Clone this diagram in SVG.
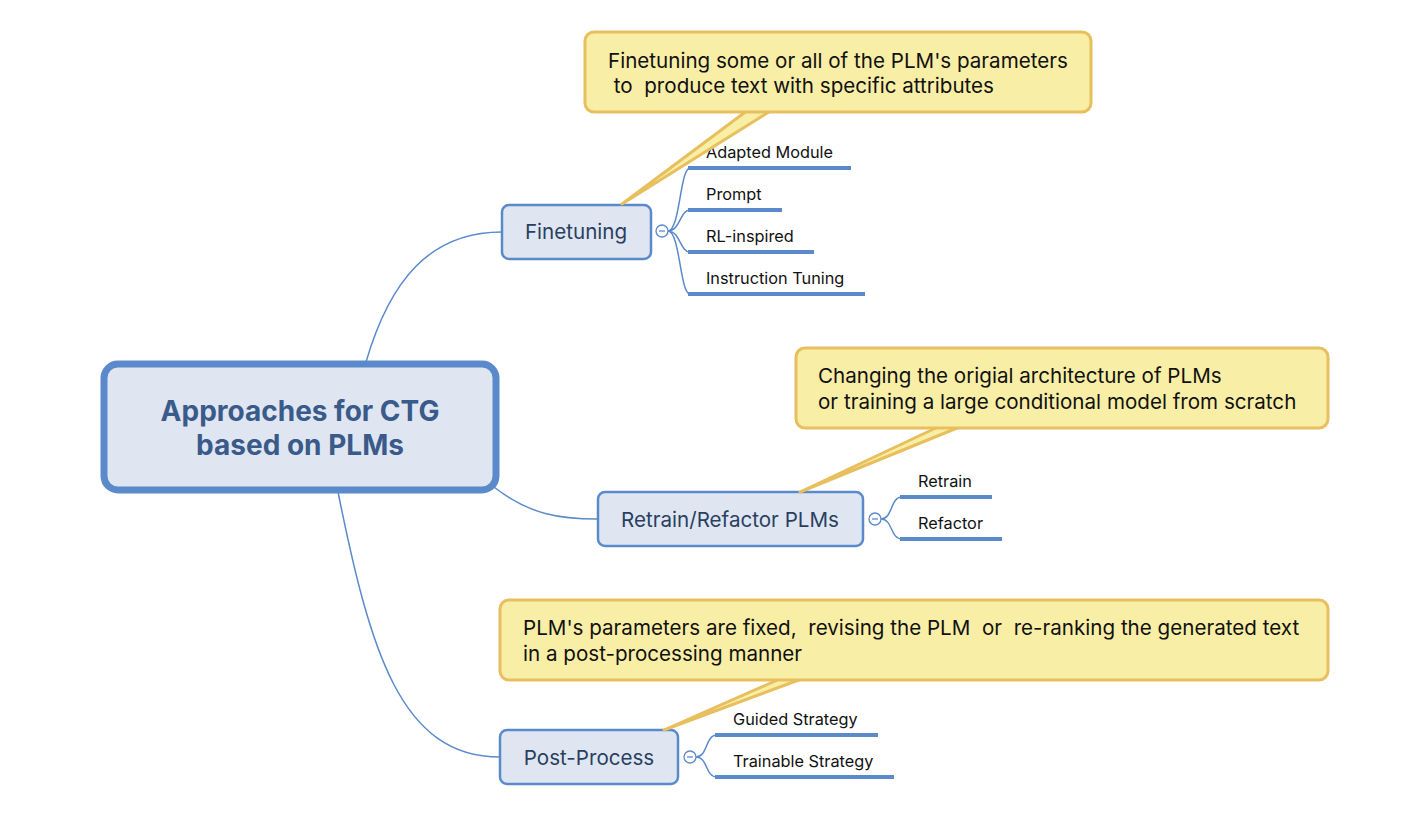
<svg xmlns="http://www.w3.org/2000/svg" width="1420" height="822" viewBox="0 0 1420 822">
<style>
text{font-family:Inter,"Liberation Sans",Arial,sans-serif;}
.main{fill:#dfe6f2;stroke:#5b8acb;stroke-width:7;}
.topic{fill:#dfe6f2;stroke:#5b8acb;stroke-width:2.5;}
.mt{font-size:28px;font-weight:700;fill:#3a5a8a;text-anchor:middle;}
.tt{font-size:20.6px;fill:#2a3f60;text-anchor:middle;}
.st{font-size:16.3px;fill:#111;}
.ul{stroke:#5b8acb;stroke-width:4;fill:none;}
.br{stroke:#5b8acb;stroke-width:1.5;fill:none;}
.col{fill:#fff;stroke:#5b8acb;stroke-width:1.3;}
.cm{stroke:#5b8acb;stroke-width:1.3;}
.call{fill:#f9eea6;stroke:#e8bf5e;stroke-width:3;}
.tail{fill:#f9eea6;stroke:#e8bf5e;stroke-width:3;stroke-linejoin:round;}
.ct{font-size:20.6px;fill:#111;}
</style>
<rect width="1420" height="822" fill="#fff"/>
<g id="connectors">
<path class="br" d="M366,362 C390,280 430,232 502,232"/>
<path class="br" d="M494,487 C530,515 560,519 598,519"/>
<path class="br" d="M338,492 C370,650 400,757 500,757"/>
<path class="br" d="M668,231 C680,231 680,168 690,168 M668,231 C680,231 680,210 690,210 M668,231 C680,231 680,252 690,252 M668,231 C680,231 680,294 690,294"/>
<path class="br" d="M881,519 C893,519 890,497 902,497 M881,519 C893,519 890,539 902,539"/>
<path class="br" d="M696,757 C708,757 705,735 717,735 M696,757 C708,757 705,777 717,777"/>
</g>
<g id="central">
<rect class="main" x="104" y="364" width="392" height="126" rx="14"/>
<text class="mt" x="300" y="421">Approaches for CTG</text>
<text class="mt" x="300" y="455">based on PLMs</text>
</g>
<g id="finetuning">
<rect class="topic" x="502" y="205" width="149" height="54" rx="7"/>
<text class="tt" x="576" y="239">Finetuning</text>
<circle class="col" cx="662" cy="231" r="6"/><line class="cm" x1="659" y1="231" x2="665" y2="231"/>
</g>
<g id="ft-children">
<line class="ul" x1="688" y1="168" x2="851" y2="168"/><text class="st" x="706" y="158">Adapted Module</text>
<line class="ul" x1="688" y1="210" x2="782" y2="210"/><text class="st" x="706" y="200">Prompt</text>
<line class="ul" x1="688" y1="252" x2="814" y2="252"/><text class="st" x="706" y="242">RL-inspired</text>
<line class="ul" x1="688" y1="294" x2="865" y2="294"/><text class="st" x="706" y="284">Instruction Tuning</text>
</g>
<g id="retrain">
<rect class="topic" x="598" y="492" width="265" height="54" rx="7"/>
<text class="tt" x="730" y="527">Retrain/Refactor PLMs</text>
<circle class="col" cx="875" cy="519" r="6"/><line class="cm" x1="872" y1="519" x2="878" y2="519"/>
</g>
<g id="rt-children">
<line class="ul" x1="900" y1="497" x2="992" y2="497"/><text class="st" x="918" y="487">Retrain</text>
<line class="ul" x1="900" y1="539" x2="1002" y2="539"/><text class="st" x="918" y="529">Refactor</text>
</g>
<g id="postprocess">
<rect class="topic" x="500" y="730" width="178" height="54" rx="7"/>
<text class="tt" x="589" y="765">Post-Process</text>
<circle class="col" cx="690" cy="757" r="6"/><line class="cm" x1="687" y1="757" x2="693" y2="757"/>
</g>
<g id="pp-children">
<line class="ul" x1="715" y1="735" x2="878" y2="735"/><text class="st" x="733" y="725">Guided Strategy</text>
<line class="ul" x1="715" y1="777" x2="894" y2="777"/><text class="st" x="733" y="767">Trainable Strategy</text>
</g>
<g id="callout1">
<polygon class="tail" points="748,110 772,110 622,204"/>
<rect class="call" x="585" y="32" width="506" height="80" rx="9"/>
<text class="ct" x="608" y="68">Finetuning some or all of the PLM's parameters</text>
<text class="ct" x="608" y="93" xml:space="preserve"> to  produce text with specific attributes</text>
</g>
<g id="callout2">
<polygon class="tail" points="940,426 962,426 800,492"/>
<rect class="call" x="796" y="348" width="532" height="80" rx="9"/>
<text class="ct" x="818" y="383">Changing the origial architecture of PLMs</text>
<text class="ct" x="818" y="409">or training a large conditional model from scratch</text>
</g>
<g id="callout3">
<polygon class="tail" points="782,678 804,678 664,730"/>
<rect class="call" x="500" y="600" width="828" height="80" rx="9"/>
<text class="ct" x="523" y="635" xml:space="preserve">PLM's parameters are fixed,  revising the PLM  or  re-ranking the generated text</text>
<text class="ct" x="523" y="661">in a post-processing manner</text>
</g>
</svg>
